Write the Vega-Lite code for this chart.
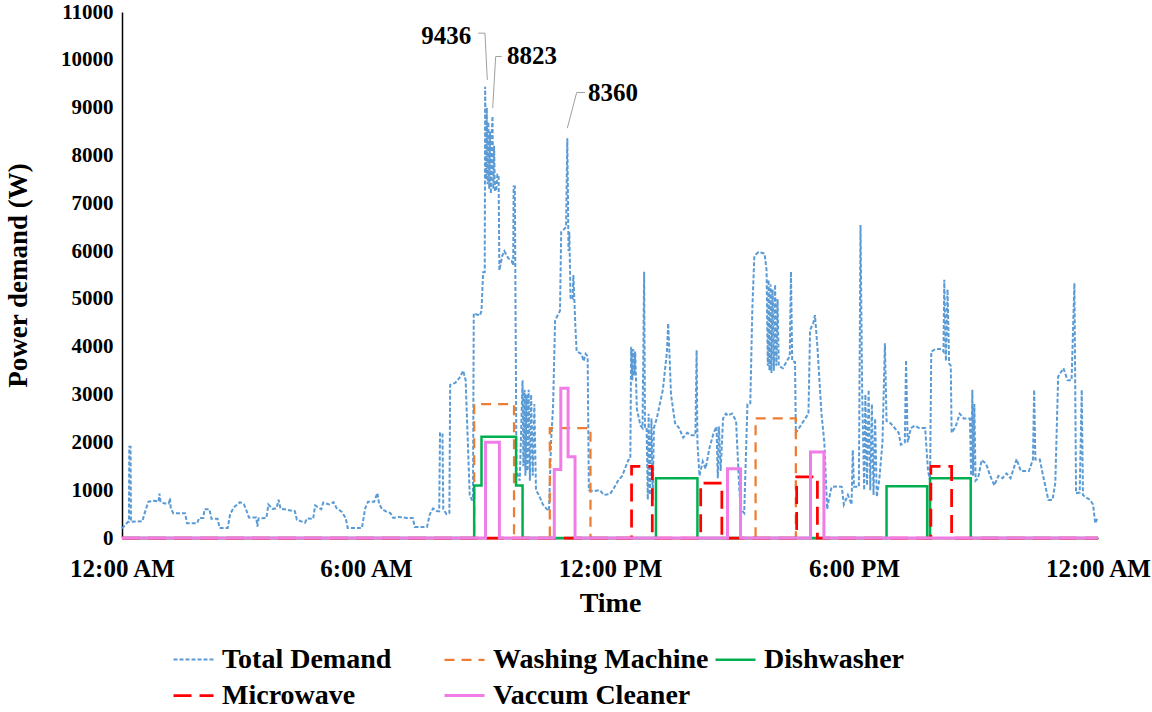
{
  "$schema": "https://vega.github.io/schema/vega-lite/v6.json",
  "width": 976,
  "height": 526,
  "autosize": {"type": "none"},
  "padding": {"left": 122, "top": 12, "right": 54, "bottom": 174},
  "background": "white",
  "config": {
    "font": "Liberation Serif",
    "view": {"stroke": null},
    "axis": {"grid": false, "ticks": false, "domainColor": "black", "domainWidth": 1.5, "labelFont": "Liberation Serif", "labelFontWeight": "bold", "titleFont": "Liberation Serif", "titleFontWeight": "bold", "labelColor": "black", "titleColor": "black"}
  },
  "datasets": {
    "total": [
      {"series":"Total Demand","hour":0.0,"watts":200},{"series":"Total Demand","hour":0.15,"watts":340},{"series":"Total Demand","hour":0.17,"watts":340},{"series":"Total Demand","hour":0.18,"watts":1910},{"series":"Total Demand","hour":0.21,"watts":1910},{"series":"Total Demand","hour":0.22,"watts":340},
      {"series":"Total Demand","hour":0.5,"watts":350},{"series":"Total Demand","hour":0.55,"watts":500},{"series":"Total Demand","hour":0.65,"watts":760},{"series":"Total Demand","hour":0.8,"watts":780},{"series":"Total Demand","hour":0.9,"watts":760},{"series":"Total Demand","hour":0.92,"watts":930},{"series":"Total Demand","hour":0.95,"watts":760},
      {"series":"Total Demand","hour":1.05,"watts":720},{"series":"Total Demand","hour":1.15,"watts":720},{"series":"Total Demand","hour":1.18,"watts":830},{"series":"Total Demand","hour":1.2,"watts":620},{"series":"Total Demand","hour":1.26,"watts":520},{"series":"Total Demand","hour":1.55,"watts":520},{"series":"Total Demand","hour":1.6,"watts":310},{"series":"Total Demand","hour":1.85,"watts":310},{"series":"Total Demand","hour":1.9,"watts":420},
      {"series":"Total Demand","hour":2.0,"watts":420},{"series":"Total Demand","hour":2.03,"watts":600},{"series":"Total Demand","hour":2.15,"watts":600},{"series":"Total Demand","hour":2.2,"watts":400},{"series":"Total Demand","hour":2.35,"watts":400},{"series":"Total Demand","hour":2.4,"watts":210},{"series":"Total Demand","hour":2.6,"watts":210},{"series":"Total Demand","hour":2.66,"watts":500},{"series":"Total Demand","hour":2.75,"watts":640},{"series":"Total Demand","hour":2.9,"watts":750},
      {"series":"Total Demand","hour":3.0,"watts":700},{"series":"Total Demand","hour":3.05,"watts":600},{"series":"Total Demand","hour":3.12,"watts":430},{"series":"Total Demand","hour":3.3,"watts":430},{"series":"Total Demand","hour":3.33,"watts":240},{"series":"Total Demand","hour":3.36,"watts":410},{"series":"Total Demand","hour":3.55,"watts":420},{"series":"Total Demand","hour":3.6,"watts":700},{"series":"Total Demand","hour":3.7,"watts":610},{"series":"Total Demand","hour":3.8,"watts":620},{"series":"Total Demand","hour":3.85,"watts":800},{"series":"Total Demand","hour":3.9,"watts":610},
      {"series":"Total Demand","hour":4.0,"watts":600},{"series":"Total Demand","hour":4.25,"watts":560},{"series":"Total Demand","hour":4.3,"watts":380},{"series":"Total Demand","hour":4.5,"watts":320},{"series":"Total Demand","hour":4.55,"watts":410},{"series":"Total Demand","hour":4.7,"watts":400},{"series":"Total Demand","hour":4.75,"watts":680},{"series":"Total Demand","hour":4.9,"watts":600},{"series":"Total Demand","hour":4.95,"watts":740},
      {"series":"Total Demand","hour":5.1,"watts":700},{"series":"Total Demand","hour":5.2,"watts":750},{"series":"Total Demand","hour":5.28,"watts":620},{"series":"Total Demand","hour":5.4,"watts":550},{"series":"Total Demand","hour":5.5,"watts":420},{"series":"Total Demand","hour":5.55,"watts":210},{"series":"Total Demand","hour":5.9,"watts":210},{"series":"Total Demand","hour":5.98,"watts":620},
      {"series":"Total Demand","hour":6.05,"watts":760},{"series":"Total Demand","hour":6.2,"watts":760},{"series":"Total Demand","hour":6.28,"watts":940},{"series":"Total Demand","hour":6.32,"watts":720},{"series":"Total Demand","hour":6.4,"watts":600},{"series":"Total Demand","hour":6.5,"watts":550},{"series":"Total Demand","hour":6.6,"watts":520},{"series":"Total Demand","hour":6.67,"watts":420},{"series":"Total Demand","hour":6.8,"watts":440},
      {"series":"Total Demand","hour":7.0,"watts":420},{"series":"Total Demand","hour":7.15,"watts":420},{"series":"Total Demand","hour":7.2,"watts":230},{"series":"Total Demand","hour":7.5,"watts":230},{"series":"Total Demand","hour":7.57,"watts":500},{"series":"Total Demand","hour":7.65,"watts":620},{"series":"Total Demand","hour":7.75,"watts":560},{"series":"Total Demand","hour":7.8,"watts":560},{"series":"Total Demand","hour":7.82,"watts":2190},{"series":"Total Demand","hour":7.88,"watts":2190},{"series":"Total Demand","hour":7.9,"watts":600},{"series":"Total Demand","hour":7.98,"watts":500},
      {"series":"Total Demand","hour":8.05,"watts":520},{"series":"Total Demand","hour":8.07,"watts":3200},{"series":"Total Demand","hour":8.2,"watts":3250},{"series":"Total Demand","hour":8.3,"watts":3350},{"series":"Total Demand","hour":8.39,"watts":3500},{"series":"Total Demand","hour":8.45,"watts":3300},{"series":"Total Demand","hour":8.55,"watts":900},{"series":"Total Demand","hour":8.6,"watts":800},{"series":"Total Demand","hour":8.63,"watts":800},{"series":"Total Demand","hour":8.65,"watts":4700},{"series":"Total Demand","hour":8.8,"watts":4650},{"series":"Total Demand","hour":8.84,"watts":4750},{"series":"Total Demand","hour":8.88,"watts":5560},{"series":"Total Demand","hour":8.92,"watts":5560},
      {"series":"Total Demand","hour":8.93,"watts":9436},{"series":"Total Demand","hour":8.95,"watts":7500},{"series":"Total Demand","hour":8.97,"watts":9000},{"series":"Total Demand","hour":8.99,"watts":7400},{"series":"Total Demand","hour":9.01,"watts":8700},{"series":"Total Demand","hour":9.03,"watts":7300},{"series":"Total Demand","hour":9.05,"watts":8500},{"series":"Total Demand","hour":9.07,"watts":7200},{"series":"Total Demand","hour":9.09,"watts":8400},{"series":"Total Demand","hour":9.11,"watts":8823},{"series":"Total Demand","hour":9.13,"watts":7300},{"series":"Total Demand","hour":9.15,"watts":8200},{"series":"Total Demand","hour":9.17,"watts":7250},{"series":"Total Demand","hour":9.2,"watts":7280},{"series":"Total Demand","hour":9.23,"watts":7600},{"series":"Total Demand","hour":9.26,"watts":7600},{"series":"Total Demand","hour":9.28,"watts":5600},
      {"series":"Total Demand","hour":9.35,"watts":5900},{"series":"Total Demand","hour":9.4,"watts":6000},{"series":"Total Demand","hour":9.5,"watts":5850},{"series":"Total Demand","hour":9.58,"watts":5800},{"series":"Total Demand","hour":9.62,"watts":5700},{"series":"Total Demand","hour":9.63,"watts":7350},{"series":"Total Demand","hour":9.66,"watts":7350},{"series":"Total Demand","hour":9.7,"watts":1400},{"series":"Total Demand","hour":9.78,"watts":1200},{"series":"Total Demand","hour":9.85,"watts":3300},{"series":"Total Demand","hour":9.87,"watts":1500},{"series":"Total Demand","hour":9.9,"watts":3100},{"series":"Total Demand","hour":9.92,"watts":1300},{"series":"Total Demand","hour":9.95,"watts":3000},{"series":"Total Demand","hour":9.97,"watts":1400},
      {"series":"Total Demand","hour":10.0,"watts":3100},{"series":"Total Demand","hour":10.03,"watts":1200},{"series":"Total Demand","hour":10.06,"watts":3000},{"series":"Total Demand","hour":10.1,"watts":1300},{"series":"Total Demand","hour":10.14,"watts":2800},{"series":"Total Demand","hour":10.18,"watts":1000},{"series":"Total Demand","hour":10.25,"watts":900},{"series":"Total Demand","hour":10.35,"watts":700},{"series":"Total Demand","hour":10.45,"watts":600},{"series":"Total Demand","hour":10.5,"watts":570},{"series":"Total Demand","hour":10.55,"watts":2000},{"series":"Total Demand","hour":10.6,"watts":2750},{"series":"Total Demand","hour":10.65,"watts":4550},{"series":"Total Demand","hour":10.77,"watts":4750},{"series":"Total Demand","hour":10.8,"watts":6400},{"series":"Total Demand","hour":10.92,"watts":6500},{"series":"Total Demand","hour":10.95,"watts":8360},{"series":"Total Demand","hour":10.98,"watts":6000},
      {"series":"Total Demand","hour":11.0,"watts":6400},{"series":"Total Demand","hour":11.03,"watts":5000},{"series":"Total Demand","hour":11.08,"watts":5000},{"series":"Total Demand","hour":11.1,"watts":5500},{"series":"Total Demand","hour":11.15,"watts":4400},{"series":"Total Demand","hour":11.18,"watts":3900},{"series":"Total Demand","hour":11.3,"watts":3850},{"series":"Total Demand","hour":11.35,"watts":3700},{"series":"Total Demand","hour":11.4,"watts":3850},{"series":"Total Demand","hour":11.45,"watts":3800},{"series":"Total Demand","hour":11.48,"watts":1000},{"series":"Total Demand","hour":11.6,"watts":980},{"series":"Total Demand","hour":11.75,"watts":1000},{"series":"Total Demand","hour":11.85,"watts":900},
      {"series":"Total Demand","hour":12.0,"watts":920},{"series":"Total Demand","hour":12.1,"watts":1050},{"series":"Total Demand","hour":12.2,"watts":1200},{"series":"Total Demand","hour":12.3,"watts":1300},{"series":"Total Demand","hour":12.45,"watts":1630},{"series":"Total Demand","hour":12.5,"watts":1650},{"series":"Total Demand","hour":12.52,"watts":4000},{"series":"Total Demand","hour":12.55,"watts":3300},{"series":"Total Demand","hour":12.57,"watts":3950},{"series":"Total Demand","hour":12.6,"watts":3400},{"series":"Total Demand","hour":12.62,"watts":3900},{"series":"Total Demand","hour":12.66,"watts":2700},{"series":"Total Demand","hour":12.75,"watts":2350},{"series":"Total Demand","hour":12.8,"watts":2300},{"series":"Total Demand","hour":12.84,"watts":5570},{"series":"Total Demand","hour":12.86,"watts":2300},{"series":"Total Demand","hour":12.9,"watts":2300},{"series":"Total Demand","hour":12.93,"watts":800},{"series":"Total Demand","hour":12.95,"watts":2600},{"series":"Total Demand","hour":12.98,"watts":900},
      {"series":"Total Demand","hour":13.02,"watts":2500},{"series":"Total Demand","hour":13.05,"watts":800},{"series":"Total Demand","hour":13.08,"watts":2300},{"series":"Total Demand","hour":13.15,"watts":2500},{"series":"Total Demand","hour":13.3,"watts":3100},{"series":"Total Demand","hour":13.4,"watts":3900},{"series":"Total Demand","hour":13.43,"watts":4490},{"series":"Total Demand","hour":13.46,"watts":3900},{"series":"Total Demand","hour":13.5,"watts":3000},{"series":"Total Demand","hour":13.6,"watts":2400},{"series":"Total Demand","hour":13.7,"watts":2300},{"series":"Total Demand","hour":13.8,"watts":2100},{"series":"Total Demand","hour":13.9,"watts":2200},
      {"series":"Total Demand","hour":14.0,"watts":2150},{"series":"Total Demand","hour":14.1,"watts":2150},{"series":"Total Demand","hour":14.13,"watts":3930},{"series":"Total Demand","hour":14.15,"watts":2000},{"series":"Total Demand","hour":14.2,"watts":1300},{"series":"Total Demand","hour":14.28,"watts":1600},{"series":"Total Demand","hour":14.35,"watts":1450},{"series":"Total Demand","hour":14.45,"watts":1900},{"series":"Total Demand","hour":14.55,"watts":2200},{"series":"Total Demand","hour":14.62,"watts":2330},{"series":"Total Demand","hour":14.65,"watts":1250},{"series":"Total Demand","hour":14.68,"watts":2330},{"series":"Total Demand","hour":14.72,"watts":1400},{"series":"Total Demand","hour":14.78,"watts":2500},{"series":"Total Demand","hour":14.85,"watts":2600},{"series":"Total Demand","hour":14.9,"watts":2560},
      {"series":"Total Demand","hour":15.0,"watts":2600},{"series":"Total Demand","hour":15.1,"watts":2450},{"series":"Total Demand","hour":15.18,"watts":1000},{"series":"Total Demand","hour":15.22,"watts":600},{"series":"Total Demand","hour":15.3,"watts":520},{"series":"Total Demand","hour":15.38,"watts":2800},{"series":"Total Demand","hour":15.45,"watts":2820},{"series":"Total Demand","hour":15.5,"watts":4800},{"series":"Total Demand","hour":15.55,"watts":5900},{"series":"Total Demand","hour":15.65,"watts":5980},{"series":"Total Demand","hour":15.8,"watts":5950},{"series":"Total Demand","hour":15.85,"watts":5600},{"series":"Total Demand","hour":15.88,"watts":3600},{"series":"Total Demand","hour":15.9,"watts":5400},{"series":"Total Demand","hour":15.92,"watts":3500},{"series":"Total Demand","hour":15.95,"watts":5300},{"series":"Total Demand","hour":15.97,"watts":3450},
      {"series":"Total Demand","hour":16.0,"watts":5200},{"series":"Total Demand","hour":16.03,"watts":3500},{"series":"Total Demand","hour":16.06,"watts":5300},{"series":"Total Demand","hour":16.09,"watts":3600},{"series":"Total Demand","hour":16.12,"watts":5000},{"series":"Total Demand","hour":16.15,"watts":3600},{"series":"Total Demand","hour":16.25,"watts":3550},{"series":"Total Demand","hour":16.35,"watts":3700},{"series":"Total Demand","hour":16.42,"watts":3800},{"series":"Total Demand","hour":16.45,"watts":5570},{"series":"Total Demand","hour":16.48,"watts":3700},{"series":"Total Demand","hour":16.55,"watts":3680},{"series":"Total Demand","hour":16.57,"watts":2200},{"series":"Total Demand","hour":16.65,"watts":2300},{"series":"Total Demand","hour":16.8,"watts":2500},{"series":"Total Demand","hour":16.88,"watts":2600},{"series":"Total Demand","hour":16.92,"watts":4350},
      {"series":"Total Demand","hour":17.0,"watts":4500},{"series":"Total Demand","hour":17.04,"watts":4660},{"series":"Total Demand","hour":17.1,"watts":4000},{"series":"Total Demand","hour":17.2,"watts":2600},{"series":"Total Demand","hour":17.27,"watts":2000},{"series":"Total Demand","hour":17.34,"watts":600},{"series":"Total Demand","hour":17.38,"watts":800},{"series":"Total Demand","hour":17.45,"watts":1070},{"series":"Total Demand","hour":17.6,"watts":1080},{"series":"Total Demand","hour":17.7,"watts":1070},{"series":"Total Demand","hour":17.75,"watts":700},{"series":"Total Demand","hour":17.85,"watts":900},{"series":"Total Demand","hour":17.94,"watts":700},{"series":"Total Demand","hour":17.97,"watts":1840},
      {"series":"Total Demand","hour":18.0,"watts":1070},{"series":"Total Demand","hour":18.12,"watts":1070},{"series":"Total Demand","hour":18.16,"watts":6548},{"series":"Total Demand","hour":18.2,"watts":3100},{"series":"Total Demand","hour":18.25,"watts":1000},{"series":"Total Demand","hour":18.28,"watts":3000},{"series":"Total Demand","hour":18.32,"watts":1100},{"series":"Total Demand","hour":18.36,"watts":3100},{"series":"Total Demand","hour":18.4,"watts":1000},{"series":"Total Demand","hour":18.44,"watts":2800},{"series":"Total Demand","hour":18.48,"watts":900},{"series":"Total Demand","hour":18.52,"watts":2500},{"series":"Total Demand","hour":18.56,"watts":860},{"series":"Total Demand","hour":18.62,"watts":1200},{"series":"Total Demand","hour":18.7,"watts":2000},{"series":"Total Demand","hour":18.76,"watts":4070},{"series":"Total Demand","hour":18.8,"watts":2450},{"series":"Total Demand","hour":18.9,"watts":2400},
      {"series":"Total Demand","hour":19.0,"watts":2300},{"series":"Total Demand","hour":19.1,"watts":2200},{"series":"Total Demand","hour":19.15,"watts":1950},{"series":"Total Demand","hour":19.25,"watts":2000},{"series":"Total Demand","hour":19.28,"watts":3720},{"series":"Total Demand","hour":19.32,"watts":2000},{"series":"Total Demand","hour":19.4,"watts":2300},{"series":"Total Demand","hour":19.5,"watts":2350},{"series":"Total Demand","hour":19.6,"watts":2300},{"series":"Total Demand","hour":19.75,"watts":2300},{"series":"Total Demand","hour":19.82,"watts":1400},{"series":"Total Demand","hour":19.87,"watts":1200},{"series":"Total Demand","hour":19.9,"watts":3900},
      {"series":"Total Demand","hour":20.0,"watts":3950},{"series":"Total Demand","hour":20.15,"watts":3950},{"series":"Total Demand","hour":20.2,"watts":3900},{"series":"Total Demand","hour":20.22,"watts":5400},{"series":"Total Demand","hour":20.26,"watts":3700},{"series":"Total Demand","hour":20.3,"watts":5200},{"series":"Total Demand","hour":20.34,"watts":3650},{"series":"Total Demand","hour":20.38,"watts":3600},{"series":"Total Demand","hour":20.4,"watts":2200},{"series":"Total Demand","hour":20.5,"watts":2330},{"series":"Total Demand","hour":20.6,"watts":2600},{"series":"Total Demand","hour":20.7,"watts":2500},{"series":"Total Demand","hour":20.85,"watts":2500},{"series":"Total Demand","hour":20.88,"watts":1300},{"series":"Total Demand","hour":20.91,"watts":3100},{"series":"Total Demand","hour":20.93,"watts":1300},{"series":"Total Demand","hour":20.96,"watts":2800},{"series":"Total Demand","hour":20.99,"watts":1200},
      {"series":"Total Demand","hour":21.05,"watts":1250},{"series":"Total Demand","hour":21.14,"watts":1630},{"series":"Total Demand","hour":21.25,"watts":1550},{"series":"Total Demand","hour":21.35,"watts":1300},{"series":"Total Demand","hour":21.45,"watts":1100},{"series":"Total Demand","hour":21.55,"watts":1300},{"series":"Total Demand","hour":21.65,"watts":1250},{"series":"Total Demand","hour":21.75,"watts":1350},{"series":"Total Demand","hour":21.85,"watts":1250},
      {"series":"Total Demand","hour":22.0,"watts":1650},{"series":"Total Demand","hour":22.1,"watts":1400},{"series":"Total Demand","hour":22.3,"watts":1400},{"series":"Total Demand","hour":22.4,"watts":1640},{"series":"Total Demand","hour":22.43,"watts":3100},{"series":"Total Demand","hour":22.46,"watts":1640},{"series":"Total Demand","hour":22.57,"watts":1640},{"series":"Total Demand","hour":22.65,"watts":1300},{"series":"Total Demand","hour":22.78,"watts":795},{"series":"Total Demand","hour":22.88,"watts":795},{"series":"Total Demand","hour":22.95,"watts":1150},
      {"series":"Total Demand","hour":23.02,"watts":3375},{"series":"Total Demand","hour":23.15,"watts":3550},{"series":"Total Demand","hour":23.25,"watts":3300},{"series":"Total Demand","hour":23.35,"watts":3300},{"series":"Total Demand","hour":23.42,"watts":5330},{"series":"Total Demand","hour":23.46,"watts":935},{"series":"Total Demand","hour":23.55,"watts":950},{"series":"Total Demand","hour":23.6,"watts":3100},{"series":"Total Demand","hour":23.63,"watts":900},{"series":"Total Demand","hour":23.7,"watts":850},{"series":"Total Demand","hour":23.8,"watts":800},{"series":"Total Demand","hour":23.88,"watts":700},{"series":"Total Demand","hour":23.93,"watts":307},{"series":"Total Demand","hour":23.98,"watts":400}
    ],
    "appliances": [
      {"series":"Washing Machine","hour":0,"watts":0},{"series":"Washing Machine","hour":8.66,"watts":2800},{"series":"Washing Machine","hour":9.64,"watts":0},{"series":"Washing Machine","hour":10.52,"watts":2300},{"series":"Washing Machine","hour":11.52,"watts":0},{"series":"Washing Machine","hour":15.58,"watts":2500},{"series":"Washing Machine","hour":16.57,"watts":0},{"series":"Washing Machine","hour":24,"watts":0},
      {"series":"Dishwasher","hour":0,"watts":0},{"series":"Dishwasher","hour":8.66,"watts":1100},{"series":"Dishwasher","hour":8.84,"watts":2120},{"series":"Dishwasher","hour":9.69,"watts":1100},{"series":"Dishwasher","hour":9.85,"watts":0},{"series":"Dishwasher","hour":13.13,"watts":1250},{"series":"Dishwasher","hour":14.15,"watts":0},{"series":"Dishwasher","hour":18.8,"watts":1080},{"series":"Dishwasher","hour":19.8,"watts":0},{"series":"Dishwasher","hour":19.87,"watts":1250},{"series":"Dishwasher","hour":20.87,"watts":0},{"series":"Dishwasher","hour":24,"watts":0},
      {"series":"Microwave","hour":0,"watts":0},{"series":"Microwave","hour":12.53,"watts":1500},{"series":"Microwave","hour":13.04,"watts":0},{"series":"Microwave","hour":14.23,"watts":1150},{"series":"Microwave","hour":14.75,"watts":0},{"series":"Microwave","hour":16.59,"watts":1280},{"series":"Microwave","hour":17.1,"watts":0},{"series":"Microwave","hour":19.89,"watts":1500},{"series":"Microwave","hour":20.4,"watts":0},{"series":"Microwave","hour":24,"watts":0},
      {"series":"Vaccum Cleaner","hour":0,"watts":0},{"series":"Vaccum Cleaner","hour":8.94,"watts":2000},{"series":"Vaccum Cleaner","hour":9.28,"watts":0},{"series":"Vaccum Cleaner","hour":10.63,"watts":1430},{"series":"Vaccum Cleaner","hour":10.79,"watts":3130},{"series":"Vaccum Cleaner","hour":10.97,"watts":1700},{"series":"Vaccum Cleaner","hour":11.14,"watts":0},{"series":"Vaccum Cleaner","hour":14.89,"watts":1450},{"series":"Vaccum Cleaner","hour":15.21,"watts":0},{"series":"Vaccum Cleaner","hour":16.93,"watts":1800},{"series":"Vaccum Cleaner","hour":17.26,"watts":0},{"series":"Vaccum Cleaner","hour":24,"watts":0}
    ],
    "leaders": [
      {"peak":"9436","k":1,"hour":8.761,"watts":10558},{"peak":"9436","k":2,"hour":8.926,"watts":10558},{"peak":"9436","k":3,"hour":8.983,"watts":9581},
      {"peak":"8823","k":1,"hour":9.337,"watts":10069},{"peak":"8823","k":2,"hour":9.189,"watts":10069},{"peak":"8823","k":3,"hour":9.115,"watts":8989},
      {"peak":"8360","k":1,"hour":11.385,"watts":9316},{"peak":"8360","k":2,"hour":11.181,"watts":9316},{"peak":"8360","k":3,"hour":10.95,"watts":8571}
    ],
    "labels": [
      {"label":"9436","hour":7.36,"watts":10502},
      {"label":"8823","hour":9.467,"watts":10073},
      {"label":"8360","hour":11.459,"watts":9309}
    ]
  },
  "encoding": {
    "x": {"field": "hour", "type": "quantitative", "scale": {"domain": [0, 24], "nice": false},
      "axis": {"values": [0, 6, 12, 18, 24], "labelExpr": "datum.value == 6 ? '6:00 AM' : datum.value == 12 ? '12:00 PM' : datum.value == 18 ? '6:00 PM' : '12:00 AM'", "title": "Time", "labelFontSize": 25, "titleFontSize": 28, "labelPadding": 18, "titlePadding": 8, "labelFlush": false, "labelOverlap": false}},
    "y": {"field": "watts", "type": "quantitative", "scale": {"domain": [0, 11000], "nice": false},
      "axis": {"values": [0, 1000, 2000, 3000, 4000, 5000, 6000, 7000, 8000, 9000, 10000, 11000], "format": "d", "title": "Power demand (W)", "labelFontSize": 21, "titleFontSize": 27, "labelPadding": 9, "titlePadding": 28}}
  },
  "layer": [
    {
      "data": {"name": "total"},
      "mark": {"type": "line", "interpolate": "linear", "strokeCap": "butt"},
      "encoding": {
        "color": {"field": "series", "type": "nominal",
          "scale": {"domain": ["Total Demand", "Washing Machine", "Dishwasher", "Microwave", "Vaccum Cleaner"], "range": ["#5B9BD5", "#ED7D31", "#00B050", "#FF0000", "#F07CE8"]},
          "legend": {"orient": "none", "legendX": 50, "legendY": 626, "columns": 3, "title": null, "symbolType": "stroke", "symbolSize": 1600, "labelFontSize": 28, "labelFont": "Liberation Serif", "labelFontWeight": "bold", "labelColor": "black", "labelOffset": 7, "columnPadding": 0, "rowPadding": -3, "gridAlign": "all", "direction": "horizontal", "labelLimit": 400}},
        "strokeDash": {"field": "series", "type": "nominal",
          "scale": {"domain": ["Total Demand", "Washing Machine", "Dishwasher", "Microwave", "Vaccum Cleaner"], "range": [[4, 2], [10, 7], [1, 0], [18, 8], [1, 0]]}},
        "strokeWidth": {"field": "series", "type": "nominal",
          "scale": {"domain": ["Total Demand", "Washing Machine", "Dishwasher", "Microwave", "Vaccum Cleaner"], "range": [2, 3, 3, 3, 3]}}
      }
    },
    {
      "data": {"name": "appliances"},
      "mark": {"type": "line", "interpolate": "step-after", "strokeCap": "butt"},
      "encoding": {
        "color": {"field": "series", "type": "nominal"},
        "strokeDash": {"field": "series", "type": "nominal"},
        "strokeWidth": {"field": "series", "type": "nominal"}
      }
    },
    {
      "data": {"name": "leaders"},
      "mark": {"type": "line", "color": "#A0A0A0", "strokeWidth": 1},
      "encoding": {"detail": {"field": "peak"}, "order": {"field": "k"}}
    },
    {
      "data": {"name": "labels"},
      "mark": {"type": "text", "align": "left", "baseline": "middle", "font": "Liberation Serif", "fontWeight": "bold", "fontSize": 25, "color": "black"},
      "encoding": {"text": {"field": "label"}}
    }
  ]
}
